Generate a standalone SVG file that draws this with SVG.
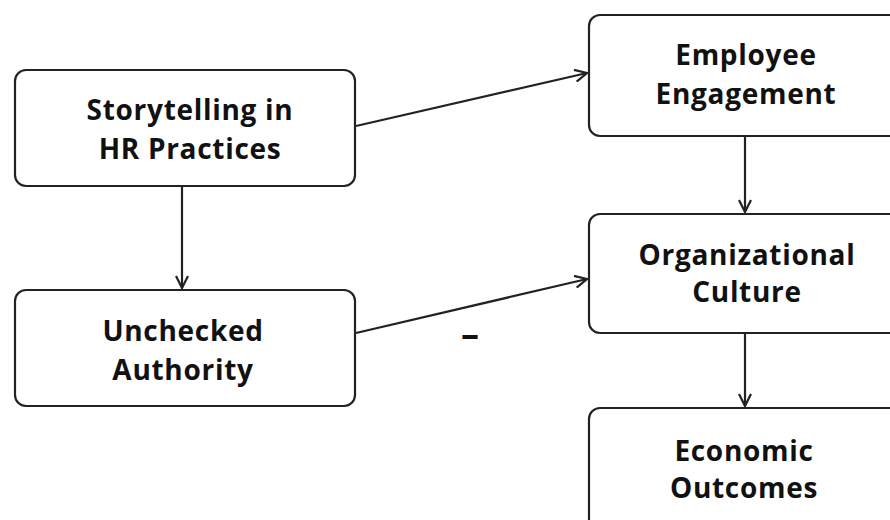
<svg xmlns="http://www.w3.org/2000/svg" width="890" height="520" viewBox="0 0 890 520">
<style>
.box{fill:#fff;stroke:#222;stroke-width:2.2}
.lbl{font-family:"Open Sans","Noto Sans",sans-serif;font-weight:700;font-size:28px;letter-spacing:0.7px;fill:#111;text-anchor:middle}
.edge{stroke:#222;stroke-width:2.2;fill:none}
</style>
<defs>
<marker id="arr" viewBox="0 0 14 14" refX="13" refY="7" markerWidth="14" markerHeight="14" markerUnits="userSpaceOnUse" orient="auto">
<path d="M1,1 L13,7 L1,13" fill="none" stroke="#222" stroke-width="2.2"/>
</marker>
</defs>
<rect width="890" height="520" fill="#fff"/>
<g id="connectors">
<line class="edge" x1="356" y1="126" x2="587" y2="73" marker-end="url(#arr)"/>
<line class="edge" x1="356" y1="333" x2="587" y2="279" marker-end="url(#arr)"/>
<line class="edge" x1="182" y1="187" x2="182" y2="288" marker-end="url(#arr)"/>
<line class="edge" x1="745" y1="137" x2="745" y2="212" marker-end="url(#arr)"/>
<line class="edge" x1="745" y1="334" x2="745" y2="406" marker-end="url(#arr)"/>
<text x="470" y="347" class="lbl" style="font-size:36px;letter-spacing:0">–</text>
</g>
<g id="storytelling">
<rect class="box" x="15" y="70" width="340" height="116" rx="11"/>
<text class="lbl" x="190" y="120">Storytelling in</text>
<text class="lbl" x="190" y="159">HR Practices</text>
</g>
<g id="employee">
<rect class="box" x="589" y="15" width="320" height="121" rx="11"/>
<text class="lbl" x="746" y="65">Employee</text>
<text class="lbl" x="746" y="104">Engagement</text>
</g>
<g id="unchecked">
<rect class="box" x="15" y="290" width="340" height="116" rx="11"/>
<text class="lbl" x="183" y="341">Unchecked</text>
<text class="lbl" x="183" y="380">Authority</text>
</g>
<g id="organizational">
<rect class="box" x="589" y="214" width="320" height="119" rx="11"/>
<text class="lbl" x="747" y="265">Organizational</text>
<text class="lbl" x="747" y="302">Culture</text>
</g>
<g id="economic">
<rect class="box" x="589" y="408" width="320" height="130" rx="11"/>
<text class="lbl" x="744" y="461">Economic</text>
<text class="lbl" x="744" y="498">Outcomes</text>
</g>
</svg>
